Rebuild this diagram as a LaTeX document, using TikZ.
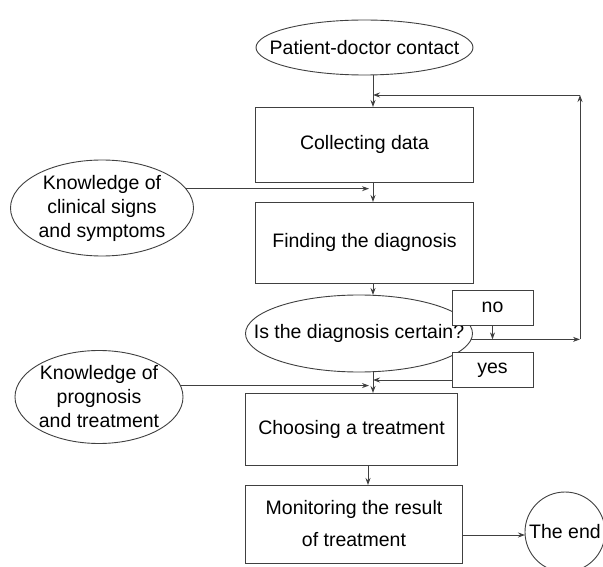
\documentclass[tikz,border=0pt]{standalone}
\usepackage{fontspec}
\setmainfont{Liberation Sans}
\usetikzlibrary{shapes.geometric, arrows.meta, positioning}

\begin{document}
\begin{tikzpicture}[x=1pt, y=-1pt, node distance=20pt,
    font=\fontsize{19.5}{24}\selectfont,
    part/.style={
        rectangle,
        draw=black!75,
        text=black,
        fill=white,
        line width=0.9pt,
        inner sep=2pt,
        outer sep=0pt,
        align=center
    }, oval/.style={
        ellipse,
        draw=black!75,
        text=black,
        fill=white,
        line width=0.9pt,
        inner xsep=-30pt,
        inner ysep=-14pt,
        outer sep=0pt,
        align=center
    }, answer/.style={
        part,
        minimum width=81pt,
        minimum height=35pt
    }, arrow/.style={
        line width=0.9pt, draw=black!75, ->, >={Stealth[length=7pt,width=5pt]}
    }]
    \useasboundingbox (0,0) rectangle (603,567);
    \clip (0,0) rectangle (603,567);
    \fill[white] (0,0) rectangle (603,567);

    \node (contact) [oval, minimum width=217pt, minimum height=55pt] at (364.5,47.5) {Patient-doctor contact};
    \node (collect) [part, minimum width=218pt, minimum height=75pt, below=32pt of contact] {Collecting data};
    \node (finddiag) [part, minimum width=218pt, minimum height=81pt, below=of collect] {Finding the diagnosis};
    \node (certain) [oval, minimum width=227pt, minimum height=77pt, below=12pt of finddiag, xshift=-5.5pt] {Is the diagnosis certain?};
    \node (choose) [part, minimum width=212pt, minimum height=72pt, below=21pt of certain, xshift=-7.5pt] {Choosing a treatment};
    \node (monitor) [part, minimum width=217pt, minimum height=78pt, below=of choose, xshift=2.5pt] {Monitoring the result\\[8pt]of treatment};
    \node (no) [answer] at (492.5,307.5) {no};
    \node (yes) [answer] at (492.5,370) {yes};
    \node (knowsigns) [oval, minimum width=183pt, minimum height=96pt] at (102,208) {Knowledge of\\clinical signs\\and symptoms};
    \node (knowprog) [oval, minimum width=168pt, minimum height=93pt] at (99,397) {Knowledge of\\prognosis\\and treatment};
    \node (theend) [oval, circle, inner sep=0pt, minimum size=80pt] at (565,532) {The end};

    \coordinate (trunk) at (373,0);
    \coordinate (trunklow) at (368,0);
    \coordinate (rcol) at (580,0);
    \coordinate (jtop) at (373,95);
    \coordinate (yesout) at ([yshift=-10pt]yes.west);
    \coordinate (monout) at ([yshift=-11pt]monitor.east);

    \draw [arrow, -] (contact.south -| trunk) -- (jtop);
    \draw [arrow] (jtop) -- (collect.north -| trunk);
    \draw [arrow] (collect.south -| trunk) -- (finddiag.north -| trunk);
    \draw [arrow, shorten >=4pt] (knowsigns.13) -- (knowsigns.13 -| trunk);
    \draw [arrow] (finddiag.south -| trunk) -- (certain.north -| trunk);
    \draw [arrow] (certain.-3) -- (certain.-3 -| rcol);
    \draw [arrow] (certain.-3 -| rcol) -- (rcol |- jtop);
    \draw [arrow] (rcol |- jtop) -- (jtop);
    \draw [arrow] (no.south) -- (no.south |- certain.-3);
    \draw [arrow] (yesout) -- (yesout -| trunk);
    \draw [arrow, shorten >=4pt] (knowprog.8) -- (knowprog.8 -| trunk);
    \draw [arrow] (certain.south -| trunk) -- (choose.north -| trunk);
    \draw [arrow] (choose.south -| trunklow) -- (monitor.north -| trunklow);
    \draw [arrow] (monout) -- (monout -| theend.west);

\end{tikzpicture}
\end{document}
